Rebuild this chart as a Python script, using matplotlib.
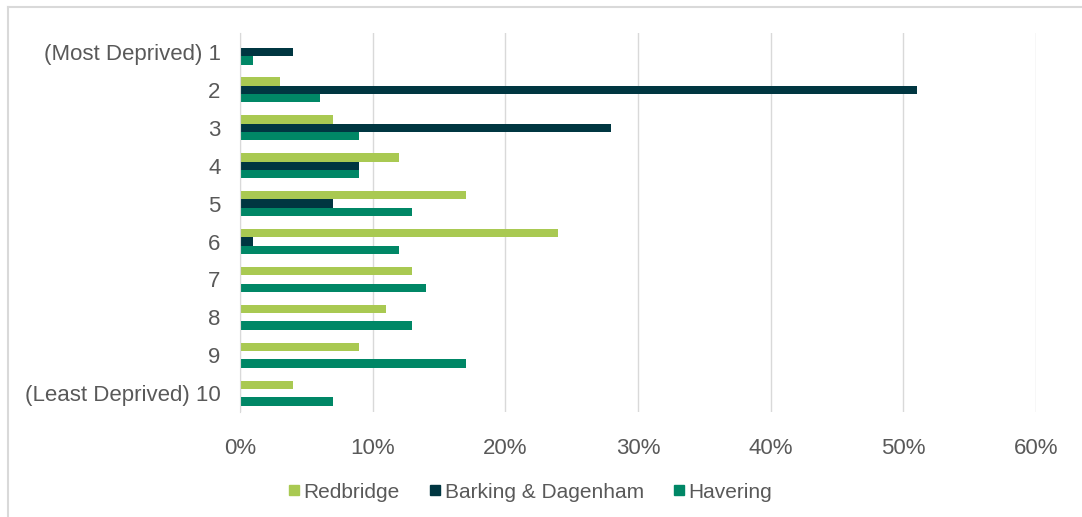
import numpy as np
import matplotlib
matplotlib.use("Agg")
import matplotlib.pyplot as plt
from matplotlib.lines import Line2D

plt.rcParams['font.family'] = ['Liberation Sans', 'DejaVu Sans']

# deprivation deciles
categories = ["(Most Deprived) 1", "2", "3", "4", "5", "6", "7", "8", "9",
              "(Least Deprived) 10"]
redbridge = [0, 3, 7, 12, 17, 24, 13, 11, 9, 4]
barking = [4, 51, 28, 9, 7, 1, 0, 0, 0, 0]
havering = [1, 6, 9, 9, 13, 12, 14, 13, 17, 7]
series_names = ["Redbridge", "Barking & Dagenham", "Havering"]
colours = ["#a9c952", "#003641", "#008766"]
text_col = "#595959"

fig = plt.figure(figsize=(10.82, 5.17), dpi=100)
ax = fig.add_axes([0.2218, 0.203, 0.7357, 0.733])

y = np.arange(len(categories))
h = 0.22
for i, (vals, c) in enumerate(zip([redbridge, barking, havering], colours)):
    ax.barh(y + (i - 1) * h, vals, height=h, color=c, label=series_names[i])

ax.set_xlim(0, 60)
ax.set_ylim(len(categories) - 0.5, -0.5)
ax.set_xticks(np.arange(0, 61, 10))
ax.set_xticklabels([f"{v}%" for v in range(0, 61, 10)])
ax.set_yticks(y)
ax.set_yticklabels(categories)
ax.tick_params(axis='both', length=0, labelsize=16, colors=text_col)
ax.tick_params(axis='x', pad=19)
ax.tick_params(axis='y', pad=14)
ax.grid(axis='x', color='#d9d9d9', linewidth=1)
ax.set_axisbelow(True)
for s in ['top', 'right', 'bottom']:
    ax.spines[s].set_visible(False)
ax.spines['left'].set_color('#d9d9d9')

handles = [Line2D([], [], marker='s', linestyle='none', markersize=7.5,
                  color=c) for c in colours]
fig.legend(handles, series_names, loc='center', bbox_to_anchor=(0.489, 0.048),
           ncol=3, frameon=False, fontsize=15, labelcolor=text_col,
           handletextpad=0.05, columnspacing=1.3, handlelength=0.8)

# chart frame
fig.add_artist(Line2D([8 / 1082, 1], [1 - 7 / 517, 1 - 7 / 517],
                      color='#d9d9d9', lw=1.5, transform=fig.transFigure))
fig.add_artist(Line2D([8 / 1082, 8 / 1082], [0, 1 - 7 / 517],
                      color='#d9d9d9', lw=1.5, transform=fig.transFigure))

fig.savefig("out.png", dpi=100)
